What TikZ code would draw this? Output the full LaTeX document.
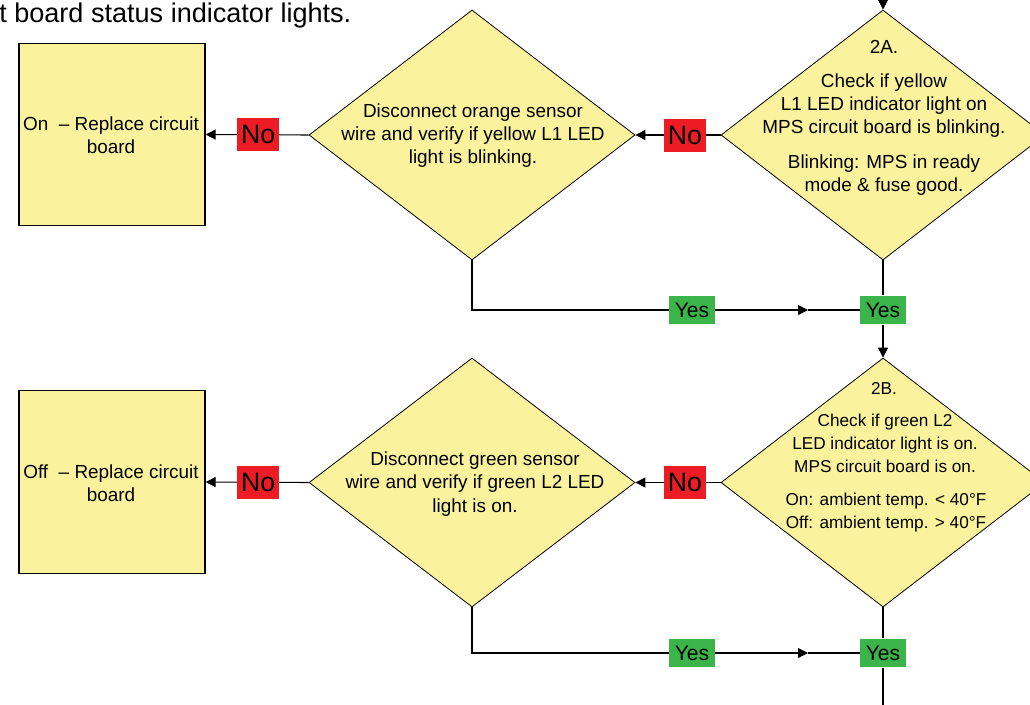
\documentclass[tikz,border=0pt]{standalone}
\usepackage{fontspec}
\setmainfont{Liberation Sans}
\usetikzlibrary{shapes.geometric,arrows.meta}
\definecolor{padyellow}{HTML}{FBF29D}
\definecolor{noRed}{HTML}{ED1C24}
\definecolor{yesGreen}{HTML}{3BB44A}

\begin{document}
\begin{tikzpicture}[x=0.75pt,y=-0.75pt,
  decision/.style={diamond, draw=black, line width=0.6pt, fill=padyellow,
    inner sep=0pt, minimum width=243pt, minimum height=187.5pt},
  action/.style={rectangle, draw=black, line width=0.9pt, fill=padyellow,
    minimum width=139.5pt, minimum height=137pt, inner sep=0pt},
  txt/.style={align=center, inner sep=0pt, font=\fontsize{14.2pt}{17.4pt}\selectfont},
  smalltxt/.style={align=center, inner sep=0pt, font=\fontsize{12.9pt}{17.3pt}\selectfont},
  nolabel/.style={fill=noRed, inner sep=0pt, minimum width=31.5pt, minimum height=24.75pt,
    font=\fontsize{20pt}{21pt}\selectfont},
  yeslabel/.style={fill=yesGreen, inner sep=0pt, minimum width=34.5pt, minimum height=21.5pt,
    font=\fontsize{15.8pt}{17pt}\selectfont},
  link/.style={draw=black, line width=0.8pt},
  flow/.style={link, -{Triangle[length=7.5pt, width=7.5pt]}}
]
\useasboundingbox (0,0) rectangle (1030,704);
\clip (0,0) rectangle (1030,704);
\fill[white] (0,0) rectangle (1030,704);

% heading line
\node[anchor=west, inner sep=0pt, font=\fontsize{20.3pt}{22pt}\selectfont] (head) at (-1,15)
  {t board status indicator lights.};

% outcome boxes
\node[action] (box1) at (112,134.5) {};
\node[txt] (box1t) at (111,135.5) {On\ \ – Replace circuit\\board};
\node[action] (box2) at (112,482) {};
\node[txt] (box2t) at (111,483.5) {Off\ \ – Replace circuit\\board};

% decisions
\node[decision, minimum width=244.5pt] (d1) at (472,135) {};
\node[txt] (d1t) at (473,135.5) {Disconnect orange sensor\\wire and verify if yellow L1 LED\\light is blinking.};

\node[decision] (d2a) at (883,135) {};
\node[txt] (d2ah) at (884,47) {2A.};
\node[txt] (d2at) at (884,105.5) {Check if yellow\\L1 LED indicator light on\\MPS circuit board is blinking.};
\node[txt] (d2an) at (884,175) {Blinking: MPS in ready\\mode \& fuse good.};

\node[decision, minimum width=244.5pt, minimum height=186.75pt] (d3) at (472,482.5) {};
\node[txt] (d3t) at (475,484) {Disconnect green sensor\\wire and verify if green L2 LED\\light is on.};

\node[decision, minimum height=186.75pt] (d2b) at (883,482.5) {};
\node[smalltxt] (d2bh) at (884,388.5) {2B.};
\node[smalltxt] (d2bt) at (885,443.5) {Check if green L2\\LED indicator light is on.\\MPS circuit board is on.};
\node[smalltxt] (d2bn) at (886,512.5) {On: ambient temp. < 40°F\\Off: ambient temp. > 40°F};

% incoming and outgoing ends
\coordinate (in) at (883,-12);
\coordinate (out) at (883,716);
\draw[flow] (in) -- (d2a.north);

% "No" branches
\draw[flow] (d2a.west) -- node[nolabel, pos=0.42] (no2) {No} (d1.east);
\draw[flow] (d1.west) -- node[nolabel, pos=0.49] (no1) {No} (box1.east);
\draw[flow] (d2b.west) -- node[nolabel, pos=0.42] (no4) {No} (d3.east);
\draw[flow] (d3.west) -- node[nolabel, pos=0.49] (no3) {No} (box2.east);

% "Yes" branches, upper pair
\node[yeslabel] (ya) at (692,310) {Yes};
\node[yeslabel] (yb) at (883,310) {Yes};
\coordinate (ma) at (808,310);
\draw[link] (d1.south) |- (ya.west);
\draw[flow] (ya.east) -- (ma);
\draw[link] (ma) -- (yb.west);
\draw[link] (d2a.south) -- (yb.north);
\draw[flow] (yb.south) -- (d2b.north);

% "Yes" branches, lower pair
\node[yeslabel] (yc) at (692,653) {Yes};
\node[yeslabel] (yd) at (883,653) {Yes};
\coordinate (mb) at (808,653);
\draw[link] (d3.south) |- (yc.west);
\draw[flow] (yc.east) -- (mb);
\draw[link] (mb) -- (yd.west);
\draw[link] (d2b.south) -- (yd.north);
\draw[link] (yd.south) -- (out);
\end{tikzpicture}
\end{document}
